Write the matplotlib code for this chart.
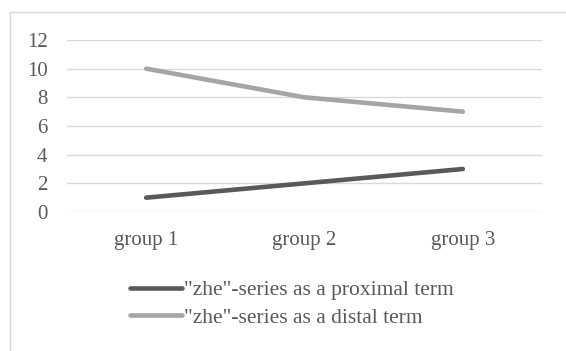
import matplotlib
matplotlib.use("Agg")
import matplotlib.pyplot as plt
from matplotlib.patches import Rectangle

categories = ["group 1", "group 2", "group 3"]
proximal = [1, 2, 3]
distal = [10, 8, 7]
series_names = ['"zhe"-series as a proximal term', '"zhe"-series as a distal term']
y_ticks = [0, 2, 4, 6, 8, 10, 12]

COLORS = {
    "dark": "#595959",
    "light": "#a5a5a5",
    "grid": "#d9d9d9",
    "text": "#595959",
    "frame": "#d9d9d9",
}

plt.rcParams["font.family"] = ["Liberation Serif", "DejaVu Serif"]

fig = plt.figure(figsize=(5.66, 3.51), dpi=100)
fig.patch.set_facecolor("white")

# outer chart frame (cut off at right/bottom like the source)
fig.patches.append(Rectangle((9.5 / 566, -0.1), 1.2, 1 - 11.5 / 351 + 0.1,
                             transform=fig.transFigure, fill=False,
                             edgecolor=COLORS["frame"], linewidth=1.0))

ax = fig.add_axes([67 / 566, 1 - 212 / 351, 475 / 566, 172 / 351])
x = list(range(len(categories)))
l1, = ax.plot(x, proximal, color=COLORS["dark"], linewidth=3.3,
              solid_capstyle="round", label=series_names[0], zorder=3)
l2, = ax.plot(x, distal, color=COLORS["light"], linewidth=3.3,
              solid_capstyle="round", label=series_names[1], zorder=3)

ax.set_xlim(-0.5, len(categories) - 0.5)
ax.set_ylim(0, 12)
ax.set_yticks(y_ticks)
ax.set_xticks(x)
ax.set_xticklabels(categories)
for spine in ax.spines.values():
    spine.set_visible(False)
ax.grid(axis="y", color=COLORS["grid"], linewidth=1.0)
ax.set_axisbelow(True)
ax.tick_params(axis="y", length=0, pad=14, labelsize=15, colors=COLORS["text"])
ax.tick_params(axis="x", length=0, pad=14, labelsize=15, colors=COLORS["text"])

fig.legend(handles=[l1, l2], loc="upper left",
           bbox_to_anchor=(130 / 566, 1 - 280 / 351),
           frameon=False, fontsize=15.5, handlelength=2.4, handletextpad=0.1,
           labelspacing=0.35, labelcolor=COLORS["text"], borderpad=0,
           borderaxespad=0)

fig.savefig("out.png", dpi=100)
